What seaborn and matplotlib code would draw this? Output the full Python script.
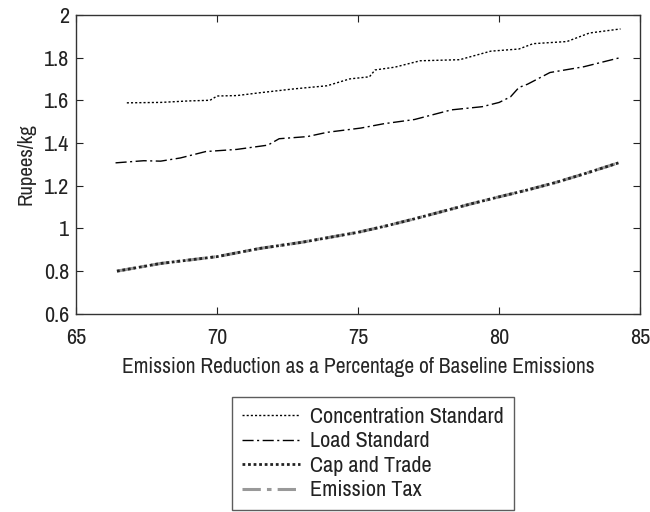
import matplotlib
matplotlib.use("Agg")
import matplotlib.pyplot as plt
import seaborn as sns

# values
conc_x = [66.8, 68.0, 69.0, 69.75, 70.0, 70.7, 71.5, 72.7, 73.9, 74.7, 75.4, 75.6, 76.3,
          77.2, 78.6, 79.7, 80.7, 81.2, 82.4, 83.2, 84.3]
conc_y = [1.588, 1.59, 1.597, 1.60, 1.62, 1.622, 1.635, 1.653, 1.668, 1.70, 1.71, 1.742, 1.755,
          1.785, 1.79, 1.83, 1.84, 1.865, 1.875, 1.915, 1.934]

load_x = [66.4, 67.4, 68.0, 68.7, 69.6, 70.7, 71.8, 72.2, 73.2, 73.9, 75.1, 75.9, 77.0,
          78.3, 79.4, 80.0, 80.4, 80.7, 81.0, 81.8, 83.0, 84.3]
load_y = [1.307, 1.317, 1.315, 1.33, 1.36, 1.37, 1.39, 1.42, 1.43, 1.45, 1.47, 1.49, 1.51,
          1.555, 1.57, 1.59, 1.616, 1.66, 1.675, 1.73, 1.757, 1.80]

cap_x = [66.45, 68.0, 70.0, 71.5, 73.0, 75.0, 76.0, 77.0, 78.0, 79.0, 80.0, 81.0, 82.0, 83.0, 84.3]
cap_y = [0.80, 0.836, 0.868, 0.906, 0.935, 0.982, 1.012, 1.045, 1.08, 1.115, 1.148, 1.18, 1.215, 1.255, 1.31]

tax_x = [66.45, 68.0, 70.0, 71.5, 73.0, 75.0, 76.0, 77.0, 78.0, 79.0, 80.0, 81.0, 82.0, 83.0, 84.3]
tax_y = [0.80, 0.836, 0.868, 0.906, 0.935, 0.982, 1.012, 1.045, 1.08, 1.115, 1.148, 1.18, 1.215, 1.255, 1.31]

labels = ["Concentration Standard", "Load Standard", "Cap and Trade", "Emission Tax"]

sns.set_style("white")
plt.rcParams['font.family'] = ['Archivo Narrow', 'DejaVu Sans']
plt.rcParams['font.weight'] = 500
plt.rcParams['text.color'] = '#222222'

fig = plt.figure(figsize=(6.5, 5.12), dpi=100)
ax = fig.add_axes([0.117, 0.387, 0.868, 0.584])

sns.lineplot(x=tax_x, y=tax_y, ax=ax, color='#999999', linestyle=(0, (6, 2, 1.5, 2)), linewidth=2.2,
             label=labels[3])
sns.lineplot(x=conc_x, y=conc_y, ax=ax, color='black', linestyle=(0, (1.5, 1.5)), linewidth=1.0,
             label=labels[0])
sns.lineplot(x=load_x, y=load_y, ax=ax, color='black', linestyle=(0, (8, 2.5, 1.5, 2.5)), linewidth=1.0,
             label=labels[1])
sns.lineplot(x=cap_x, y=cap_y, ax=ax, color='#222222', linestyle=(0, (1, 1)), linewidth=2.0,
             label=labels[2])

ax.set_xlim(65, 85)
ax.set_ylim(0.6, 2)
ax.set_xticks([65, 70, 75, 80, 85])
ax.set_yticks([0.6, 0.8, 1, 1.2, 1.4, 1.6, 1.8, 2])
ax.set_yticklabels(['0.6', '0.8', '1', '1.2', '1.4', '1.6', '1.8', '2'])
ax.tick_params(direction='in', length=5, width=0.8, top=True, right=True, labelsize=16,
               bottom=True, left=True, colors='#222222')
ax.tick_params(axis='x', pad=10)
ax.tick_params(axis='y', pad=5)
for s in ax.spines.values():
    s.set_color('#333333')
    s.set_linewidth(1.0)
ax.set_xlabel('Emission Reduction as a Percentage of Baseline Emissions', fontsize=15.5, labelpad=7)
ax.set_ylabel('Rupees/kg', fontsize=15, labelpad=6)

handles, labs = ax.get_legend_handles_labels()
order = [labs.index(l) for l in labels]
ax.get_legend().remove()
leg = fig.legend([handles[i] for i in order], [labs[i] for i in order],
                 loc='upper center', bbox_to_anchor=(0.574, 0.2246), fontsize=16,
                 frameon=True, fancybox=False, edgecolor='#333333', handlelength=2.6,
                 labelspacing=0.2, borderpad=0.45, handletextpad=0.45, borderaxespad=0)
leg.get_frame().set_linewidth(1.0)

fig.savefig('out.png', dpi=100)
